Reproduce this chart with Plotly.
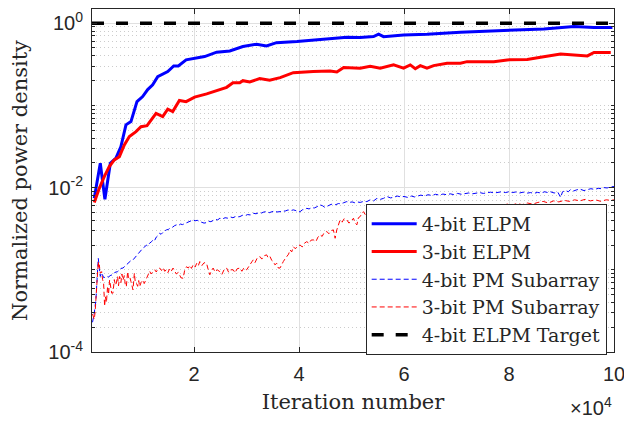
import plotly.graph_objects as go

# ---------------- data ----------------
elpm4_iter = [980, 2130, 3010, 4040, 5110, 6060, 7020, 7970, 9120, 10200, 11160, 12110, 13070,
              14980, 16120, 17000, 18480, 20000, 22000, 24300, 26800, 29300, 31900, 33800, 35700,
              39600, 44000, 49100, 51640, 54190, 55150, 56100, 59910, 64370, 70740, 79970, 86640,
              92370, 96190, 99700]
elpm4_val = [0.0074, 0.0198, 0.0072, 0.0198, 0.0228, 0.0315, 0.058, 0.0635, 0.111, 0.128, 0.156,
             0.178, 0.224, 0.258, 0.302, 0.302, 0.358, 0.375, 0.393, 0.444, 0.46, 0.52, 0.555,
             0.53, 0.58, 0.60, 0.63, 0.675, 0.668, 0.687, 0.735, 0.687, 0.72, 0.735, 0.777, 0.829,
             0.853, 0.91, 0.885, 0.885]

elpm3_iter = [980, 1940, 2890, 3840, 4800, 5760, 6710, 7670, 8930, 9890, 11030, 11800, 12750,
              14020, 14980, 15930, 17200, 18480, 20100, 22400, 24900, 26200, 27400, 28700, 29300,
              30600, 32500, 34400, 36400, 38900, 42700, 45900, 47200, 48500, 51640, 53550, 55460,
              58000, 59910, 61190, 62140, 63100, 64370, 65640, 68200, 70740, 72010, 77100, 79650,
              83470, 86010, 89830, 94930, 96190, 99380]
elpm3_val = [0.0066, 0.0098, 0.0136, 0.018, 0.0217, 0.0238, 0.033, 0.0418, 0.048, 0.055, 0.0568,
             0.0666, 0.080, 0.073, 0.090, 0.084, 0.115, 0.111, 0.126, 0.138, 0.155, 0.166, 0.189,
             0.189, 0.20, 0.193, 0.212, 0.202, 0.218, 0.25, 0.258, 0.263, 0.255, 0.29, 0.284,
             0.30, 0.284, 0.311, 0.284, 0.311, 0.28, 0.305, 0.284, 0.305, 0.326, 0.326, 0.341,
             0.341, 0.358, 0.362, 0.386, 0.423, 0.40, 0.44, 0.44]

pm4_iter = [650, 980, 1290, 1480, 1750, 1940, 2130, 2350, 2570, 2800, 3270, 3700, 4150, 4540,
            4900, 5430, 5810, 6060, 6450, 6800, 7090, 7340, 7700, 8000, 8360, 8620, 9000, 9300,
            9630, 9880, 10300, 10600, 10910, 11160, 11500, 11900, 12180, 12440, 12800, 13100,
            13450, 13700, 14000, 14300, 14730, 15100, 15500, 15900, 16300, 16640, 17000, 17400,
            17800, 18200, 18550, 18900, 19300, 19820, 20200, 20600, 21090, 21500, 21900, 22370,
            22800, 23200, 23600, 24000, 24500, 24910, 25400, 25900, 26400, 26900, 27400, 27900,
            28300, 28730, 29200, 29700, 30200, 30700, 31270, 31800, 32300, 32800, 33300, 33830,
            34300, 34800, 35300, 35800, 36370, 36900, 37400, 37900, 38400, 38910, 39400, 39800,
            40190, 40700, 41100, 41460, 41900, 42400, 42900, 43400, 44000, 44500, 44900, 45280,
            45700, 46100, 46540, 47000, 47500, 48000, 48500, 49100, 49600, 50100, 50600, 51100,
            51640, 52300, 52920, 53550, 54200, 54830, 55500, 56090, 56740, 57400, 58000, 58700,
            59400, 60000, 60700, 61400, 62000, 62470, 63200, 63900, 64600, 65300, 66000, 66700,
            67400, 68100, 68830, 69500, 70200, 70900, 71600, 72300, 73000, 73700, 74400, 75100,
            75800, 76500, 77200, 77900, 78600, 79300, 79970, 80600, 81300, 82000, 82700, 83400,
            84100, 84740, 85400, 86100, 86800, 87400, 87920, 88600, 89300, 89830, 90200, 90800,
            91300, 91740, 92300, 92900, 93500, 94280, 94900, 95600, 96300, 97000, 97600, 98100,
            98700, 99300, 100000]
pm4_val = [2.3e-4, 2.96e-4, 4.3e-4, 7.5e-4, 1.38e-3, 1.04e-3, 8.3e-4, 9.2e-4, 8.7e-4, 8.0e-4,
           8.3e-4, 8.2e-4, 8.6e-4, 8.7e-4, 9.3e-4, 9.5e-4, 1.0e-3, 1.04e-3, 1.05e-3, 1.1e-3,
           1.15e-3, 1.2e-3, 1.24e-3, 1.3e-3, 1.32e-3, 1.38e-3, 1.5e-3, 1.58e-3, 1.66e-3, 1.7e-3,
           1.85e-3, 1.9e-3, 2.0e-3, 1.95e-3, 2.1e-3, 2.2e-3, 2.31e-3, 2.25e-3, 2.5e-3, 2.6e-3,
           2.79e-3, 2.7e-3, 2.85e-3, 2.95e-3, 3.06e-3, 3.1e-3, 3.25e-3, 3.3e-3, 3.45e-3, 3.52e-3,
           3.45e-3, 3.6e-3, 3.55e-3, 3.65e-3, 3.69e-3, 3.75e-3, 3.85e-3, 4.05e-3, 3.95e-3, 4.0e-3,
           3.86e-3, 3.8e-3, 3.7e-3, 3.75e-3, 3.9e-3, 3.85e-3, 4.0e-3, 4.1e-3, 4.05e-3, 4.24e-3,
           4.15e-3, 4.3e-3, 4.25e-3, 4.4e-3, 4.3e-3, 4.45e-3, 4.4e-3, 4.44e-3, 4.6e-3, 4.55e-3,
           4.7e-3, 4.65e-3, 4.88e-3, 4.8e-3, 4.95e-3, 4.9e-3, 5.05e-3, 5.1e-3, 4.95e-3, 5.1e-3,
           5.2e-3, 5.05e-3, 5.1e-3, 5.25e-3, 5.2e-3, 5.35e-3, 5.25e-3, 5.36e-3, 5.25e-3, 5.05e-3,
           5.1e-3, 5.4e-3, 5.35e-3, 5.6e-3, 5.5e-3, 5.7e-3, 5.65e-3, 5.85e-3, 6.17e-3, 6.0e-3,
           5.75e-3, 5.9e-3, 6.1e-3, 6.25e-3, 6.3e-3, 6.2e-3, 6.4e-3, 6.35e-3, 6.55e-3, 6.76e-3,
           6.6e-3, 6.7e-3, 6.55e-3, 6.7e-3, 6.6e-3, 6.8e-3, 6.76e-3, 7.1e-3, 6.9e-3, 7.4e-3,
           7.2e-3, 7.4e-3, 7.8e-3, 7.5e-3, 7.6e-3, 7.9e-3, 7.7e-3, 7.8e-3, 7.6e-3, 7.9e-3, 7.7e-3,
           7.9e-3, 8.1e-3, 7.9e-3, 8.2e-3, 8.0e-3, 8.3e-3, 8.1e-3, 8.35e-3, 8.2e-3, 8.4e-3,
           8.2e-3, 8.5e-3, 8.3e-3, 8.45e-3, 8.6e-3, 8.4e-3, 8.55e-3, 8.7e-3, 8.5e-3, 8.65e-3,
           8.8e-3, 8.6e-3, 8.75e-3, 8.9e-3, 8.7e-3, 8.9e-3, 8.7e-3, 8.85e-3, 8.6e-3, 8.8e-3,
           8.55e-3, 8.7e-3, 8.5e-3, 8.75e-3, 8.6e-3, 8.9e-3, 8.7e-3, 8.9e-3, 8.6e-3, 8.8e-3,
           7.6e-3, 8.9e-3, 9.2e-3, 8.9e-3, 9.5e-3, 9.1e-3, 9.4e-3, 9.6e-3, 9.2e-3, 9.5e-3, 9.7e-3,
           9.5e-3, 9.8e-3, 9.7e-3, 1.0e-2, 9.9e-3, 1.02e-2, 1.03e-2]

pm3_iter = [650, 980, 1150, 1290, 1450, 1610, 1750, 1850, 1940, 2130, 2380, 2570, 2760, 2950,
            3100, 3300, 3520, 3700, 3900, 4150, 4300, 4540, 4800, 5000, 5180, 5430, 5600, 5810,
            6060, 6250, 6450, 6700, 6900, 7090, 7340, 7500, 7720, 7970, 8200, 8360, 8620, 8800,
            9000, 9250, 9450, 9630, 9900, 10270, 10500, 10910, 11200, 11540, 11800, 12180, 12500,
            12800, 13100, 13450, 13800, 14100, 14400, 14730, 15000, 15300, 15600, 15990, 16300,
            16600, 17000, 17270, 17500, 17900, 18200, 18550, 18900, 19200, 19500, 19820, 20200,
            20500, 20800, 21090, 21500, 21900, 22370, 22700, 23000, 23300, 23630, 24000, 24400,
            24910, 25300, 25700, 26190, 26600, 27000, 27450, 27800, 28200, 28730, 29100, 29500,
            30010, 30300, 30640, 31000, 31270, 31600, 32000, 32550, 32900, 33300, 33830, 34100,
            34460, 34800, 35090, 35400, 35740, 36050, 36370, 36700, 37000, 37300, 37650, 38000,
            38280, 38600, 38910, 39300, 39700, 40190, 40600, 41000, 41460, 41900, 42300, 42730,
            43200, 43600, 44000, 44400, 44800, 45280, 45700, 46100, 46540, 46870, 47190, 47500,
            47820, 48200, 48600, 49100, 49500, 49900, 50360, 50700, 51010, 51300, 51640, 52000,
            52270, 52600, 52920, 55000, 58000, 61000, 64000, 67000, 70000, 73000, 76000, 79000,
            79650, 80500, 81500, 82500, 83500, 84500, 85500, 86500, 87500, 88500, 89500, 90500,
            91500, 92500, 93500, 94500, 95500, 96500, 97500, 98500, 99500, 100000]
pm3_val = [2.9e-4, 2.5e-4, 3.1e-4, 4.7e-4, 7.0e-4, 9.1e-4, 1.26e-3, 1.05e-3, 1.15e-3, 9.1e-4,
           9.5e-4, 7.6e-4, 6.9e-4, 3.6e-4, 4.7e-4, 4.0e-4, 6.3e-4, 5.0e-4, 7.5e-4, 6.0e-4, 5.2e-4,
           5.2e-4, 7.6e-4, 6.5e-4, 6.9e-4, 8.3e-4, 6.4e-4, 8.3e-4, 7.0e-4, 8.9e-4, 7.5e-4, 8.5e-4,
           6.5e-4, 6.25e-4, 9.5e-4, 8.0e-4, 8.3e-4, 7.2e-4, 6.0e-4, 5.7e-4, 9.1e-4, 7.0e-4,
           6.9e-4, 6.3e-4, 7.4e-4, 6.25e-4, 7.0e-4, 7.5e-4, 6.8e-4, 7.9e-4, 8.8e-4, 9.6e-4,
           8.9e-4, 9.5e-4, 1.0e-3, 9.4e-4, 1.03e-3, 1.05e-3, 9.8e-4, 1.06e-3, 9.6e-4, 1.0e-3,
           9.2e-4, 1.02e-3, 9.5e-4, 1.05e-3, 9.7e-4, 8.9e-4, 9.3e-4, 8.3e-4, 8.0e-4, 7.9e-4,
           9.8e-4, 1.09e-3, 1.05e-3, 1.13e-3, 1.04e-3, 1.15e-3, 1.08e-3, 1.2e-3, 1.12e-3, 1.26e-3,
           1.13e-3, 1.22e-3, 1.2e-3, 1.0e-3, 8.7e-4, 9.8e-4, 1.05e-3, 9.4e-4, 1.0e-3, 9.5e-4,
           8.8e-4, 1.0e-3, 1.05e-3, 9.3e-4, 1.0e-3, 1.0e-3, 9.2e-4, 1.03e-3, 1.05e-3, 9.6e-4,
           1.06e-3, 1.0e-3, 1.08e-3, 1.15e-3, 1.25e-3, 1.32e-3, 1.22e-3, 1.38e-3, 1.45e-3,
           1.35e-3, 1.48e-3, 1.52e-3, 1.4e-3, 1.45e-3, 1.3e-3, 1.26e-3, 1.15e-3, 1.2e-3, 1.05e-3,
           1.05e-3, 1.18e-3, 1.26e-3, 1.35e-3, 1.45e-3, 1.55e-3, 1.75e-3, 1.65e-3, 1.91e-3,
           1.8e-3, 1.95e-3, 2.0e-3, 1.9e-3, 2.1e-3, 2.2e-3, 2.1e-3, 2.3e-3, 2.31e-3, 2.2e-3,
           2.5e-3, 2.66e-3, 2.55e-3, 2.85e-3, 2.92e-3, 2.75e-3, 3.0e-3, 3.06e-3, 2.42e-3, 3.06e-3,
           3.6e-3, 4.05e-3, 3.8e-3, 4.2e-3, 4.05e-3, 3.7e-3, 3.9e-3, 4.24e-3, 3.7e-3, 3.52e-3,
           4.3e-3, 4.44e-3, 4.9e-3, 5.1e-3, 4.7e-3, 4.88e-3, 4.9e-3, 5.2e-3, 5.3e-3, 5.5e-3,
           5.6e-3, 5.8e-3, 5.9e-3, 6.0e-3, 6.1e-3, 6.3e-3, 6.1e-3, 6.4e-3, 6.2e-3, 6.5e-3, 6.3e-3,
           6.6e-3, 6.8e-3, 6.5e-3, 6.9e-3, 6.7e-3, 7.0e-3, 6.8e-3, 7.1e-3, 6.9e-3, 7.2e-3, 6.9e-3,
           7.1e-3, 6.8e-3, 7.1e-3, 7.0e-3, 7.1e-3]

target_iter = [550, 100000]
target_val = [1.0, 1.0]

xtick_vals = [20000, 40000, 60000, 80000, 100000]
xtick_text = ["2", "4", "6", "8", "10"]
ytick_vals = [1e-4, 1e-2, 1]
ytick_text = ["10<sup>-4</sup>", "10<sup>-2</sup>", "10<sup>0</sup>"]
yminor_vals = [m * 10.0 ** e for e in range(-4, 1) for m in range(2, 10)] + [1e-3, 1e-1]

series_names = ["4-bit ELPM", "3-bit ELPM", "4-bit PM Subarray", "3-bit PM Subarray",
                "4-bit ELPM Target"]

# ---------------- figure ----------------
AX = "#262626"
SERIF = "DejaVu Serif"
SANS = "Liberation Sans, Arial, sans-serif"

fig = go.Figure()
fig.add_trace(go.Scatter(x=elpm4_iter, y=elpm4_val, mode="lines", name=series_names[0],
                         line=dict(color="#0000ff", width=3)))
fig.add_trace(go.Scatter(x=elpm3_iter, y=elpm3_val, mode="lines", name=series_names[1],
                         line=dict(color="#ff0000", width=3)))
fig.add_trace(go.Scatter(x=pm4_iter, y=pm4_val, mode="lines", name=series_names[2],
                         line=dict(color="#0000ff", width=1, dash="5px,3px")))
fig.add_trace(go.Scatter(x=pm3_iter, y=pm3_val, mode="lines", name=series_names[3],
                         line=dict(color="#ff0000", width=1, dash="5px,3px")))
fig.add_trace(go.Scatter(x=target_iter, y=target_val, mode="lines", name=series_names[4],
                         line=dict(color="#000000", width=3.5, dash="12px,12px")))

# page body has an 8px margin, so the figure is drawn 8px smaller and offset accordingly
fig.update_layout(
    width=624, height=414,
    margin=dict(l=84, r=18, t=1, b=70, autoexpand=False),
    paper_bgcolor="white", plot_bgcolor="white",
    showlegend=True,
    legend=dict(x=0.5243, y=0.4315, xanchor="left", yanchor="top",
                bgcolor="white", bordercolor=AX, borderwidth=1,
                font=dict(family=SERIF, size=19, color=AX),
                itemwidth=45, tracegroupgap=0),
    xaxis=dict(
        range=[550, 100000], tickmode="array", tickvals=xtick_vals, ticktext=xtick_text,
        ticks="inside", ticklen=5, tickcolor=AX, tickwidth=1, automargin=False,
        showline=True, linecolor=AX, linewidth=1, mirror="ticks",
        showgrid=True, gridcolor="#e0e0e0", gridwidth=1, zeroline=False,
        tickfont=dict(family=SANS, size=20, color=AX), ticklabelstandoff=4,
        title=dict(text="Iteration number", font=dict(family=SERIF, size=21, color=AX),
                   standoff=10),
    ),
    yaxis=dict(
        type="log", range=[-4, 0.173], tickmode="array", tickvals=ytick_vals,
        ticktext=ytick_text, automargin=False,
        ticks="inside", ticklen=5, tickcolor=AX, tickwidth=1,
        showline=True, linecolor=AX, linewidth=1, mirror="ticks",
        showgrid=True, gridcolor="#e0e0e0", gridwidth=1, zeroline=False,
        tickfont=dict(family=SANS, size=20, color=AX), ticklabelstandoff=4,
        minor=dict(tickmode="array", tickvals=yminor_vals, ticks="inside", ticklen=3,
                   tickcolor=AX, showgrid=True, gridcolor="#cccccc", griddash="1px,3px",
                   gridwidth=1),
        title=dict(text="Normalized power density", font=dict(family=SERIF, size=21, color=AX),
                   standoff=16),
    ),
    annotations=[dict(text="\u00d710<sup>4</sup>", xref="paper", yref="paper", x=1.0, y=-0.16,
                      xanchor="right", yanchor="middle", showarrow=False,
                      font=dict(family=SANS, size=20, color=AX))],
)

fig.write_html("out.html")
